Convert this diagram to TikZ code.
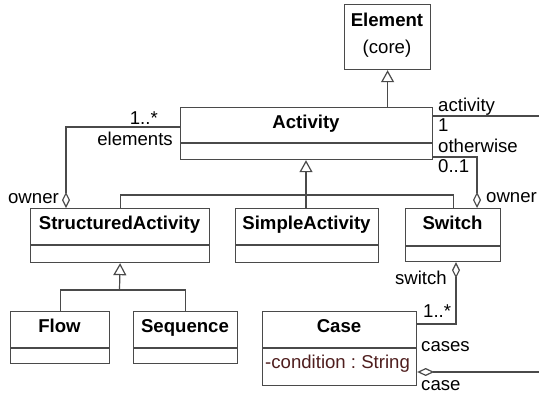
\documentclass[tikz,border=0pt]{standalone}
\usepackage{fontspec}
\setmainfont{Liberation Sans}
\usetikzlibrary{arrows.meta,calc}
\definecolor{ln}{HTML}{4A4A4A}
\definecolor{attr}{HTML}{4F1E1E}
\newcommand\dfont{\fontsize{18.6pt}{22pt}\selectfont}
\frenchspacing
\begin{document}
\begin{tikzpicture}[x=1pt,y=-1pt,
  every node/.append style={font=\dfont},
  cls/.style={draw=ln, line width=1.2pt, inner sep=0pt, anchor=north west},
  ttl/.style={font=\dfont\bfseries, anchor=base, inner sep=0pt},
  lbl/.style={inner sep=0pt},
  con/.style={draw=ln, line width=1.2pt},
  gen/.style={con, -{Triangle[open, width=13pt, length=12pt, fill=white]}},
  agg/.style={con, -{Diamond[open, width=8pt, length=16pt, fill=white]}},
  aggs/.style={con, {Diamond[open, width=8pt, length=17pt, fill=white]}-}]
\useasboundingbox (0,0) rectangle (539,394);

% classes
\node[cls, minimum width=86pt, minimum height=65pt] (elem) at (344,4) {};
\node[ttl] (elem-t) at (387,26) {Element};
\node[lbl, anchor=base] (elem-c) at (387,53) {(core)};

\node[cls, minimum width=252pt, minimum height=52pt] (act) at (180,107) {};
\node[ttl] (act-t) at (306,128) {Activity};
\draw[con] ($(act.north west)+(0,36)$) -- ($(act.north east)+(0,36)$);

\node[cls, minimum width=179pt, minimum height=54pt] (sa) at (30,208) {};
\node[ttl] (sa-t) at (119.5,229) {StructuredActivity};
\draw[con] ($(sa.north west)+(0,37)$) -- ($(sa.north east)+(0,37)$);

\node[cls, minimum width=143pt, minimum height=54pt] (simple) at (235,208) {};
\node[ttl] (simple-t) at (306.5,229) {SimpleActivity};
\draw[con] ($(simple.north west)+(0,37)$) -- ($(simple.north east)+(0,37)$);

\node[cls, minimum width=95pt, minimum height=53pt] (sw) at (405,208) {};
\node[ttl] (sw-t) at (452.5,229) {Switch};
\draw[con] ($(sw.north west)+(0,38)$) -- ($(sw.north east)+(0,38)$);

\node[cls, minimum width=99pt, minimum height=52pt] (flow) at (10,311) {};
\node[ttl] (flow-t) at (59.5,332) {Flow};
\draw[con] ($(flow.north west)+(0,37)$) -- ($(flow.north east)+(0,37)$);

\node[cls, minimum width=104pt, minimum height=52pt] (seq) at (133,311) {};
\node[ttl] (seq-t) at (185,332) {Sequence};
\draw[con] ($(seq.north west)+(0,37)$) -- ($(seq.north east)+(0,37)$);

\node[cls, minimum width=154pt, minimum height=74pt] (case) at (262,311) {};
\node[ttl] (case-t) at (339,332) {Case};
\draw[con] ($(case.north west)+(0,37)$) -- ($(case.north east)+(0,37)$);
\node[lbl, anchor=base west, text=attr] (case-a) at (265,368) {-condition : String};

% generalizations
\draw[gen] (elem.south |- act.north) -- (elem.south);
\coordinate (j1) at (306,195);
\draw[con] (sa.north) |- (j1) -| (sw.north);
\draw[con] (j1) -- (j1 |- simple.north);
\draw[gen] (j1) -- (j1 |- act.south);
\coordinate (j2) at (119.5,290);
\draw[con] (flow.north) |- (j2) -| (seq.north);
\draw[gen] (j2) -- (sa.south);

% associations
\draw[agg] ($(act.north west)+(0,20)$) -| ($(sa.north west)+(36,0)$);
\node[lbl, anchor=base east] (l-el1) at (158,124) {1..*};
\node[lbl, anchor=base east] (l-el2) at (173,145) {elements};
\node[lbl, anchor=base east] (l-ow1) at (59,203) {owner};

\draw[agg] ($(act.north east)+(0,50)$) -| ($(sw.north west)+(72,0)$);
\node[lbl, anchor=base west] (l-ot1) at (438,152) {otherwise};
\node[lbl, anchor=base west] (l-ot2) at (438,172) {0..1};
\node[lbl, anchor=base west] (l-ow2) at (486,202) {owner};

\coordinate (actend) at (539,116);
\draw[con] (act.east |- actend) -- (actend);
\node[lbl, anchor=base west] (l-ac1) at (438,111) {activity};
\node[lbl, anchor=base west] (l-ac2) at (438,131) {1};

\draw[agg] ($(case.north east)+(0,13)$) -| ($(sw.south west)+(51,0)$);
\node[lbl, anchor=base east] (l-sw1) at (447,284) {switch};
\node[lbl, anchor=base west] (l-sw2) at (423,317) {1..*};
\node[lbl, anchor=base west] (l-cs) at (421,351) {cases};

\coordinate (caseend) at (539,372);
\draw[aggs] (case.east |- caseend) -- (caseend);
\node[lbl, anchor=base west] (l-c) at (421,390.5) {case};
\end{tikzpicture}
\end{document}
